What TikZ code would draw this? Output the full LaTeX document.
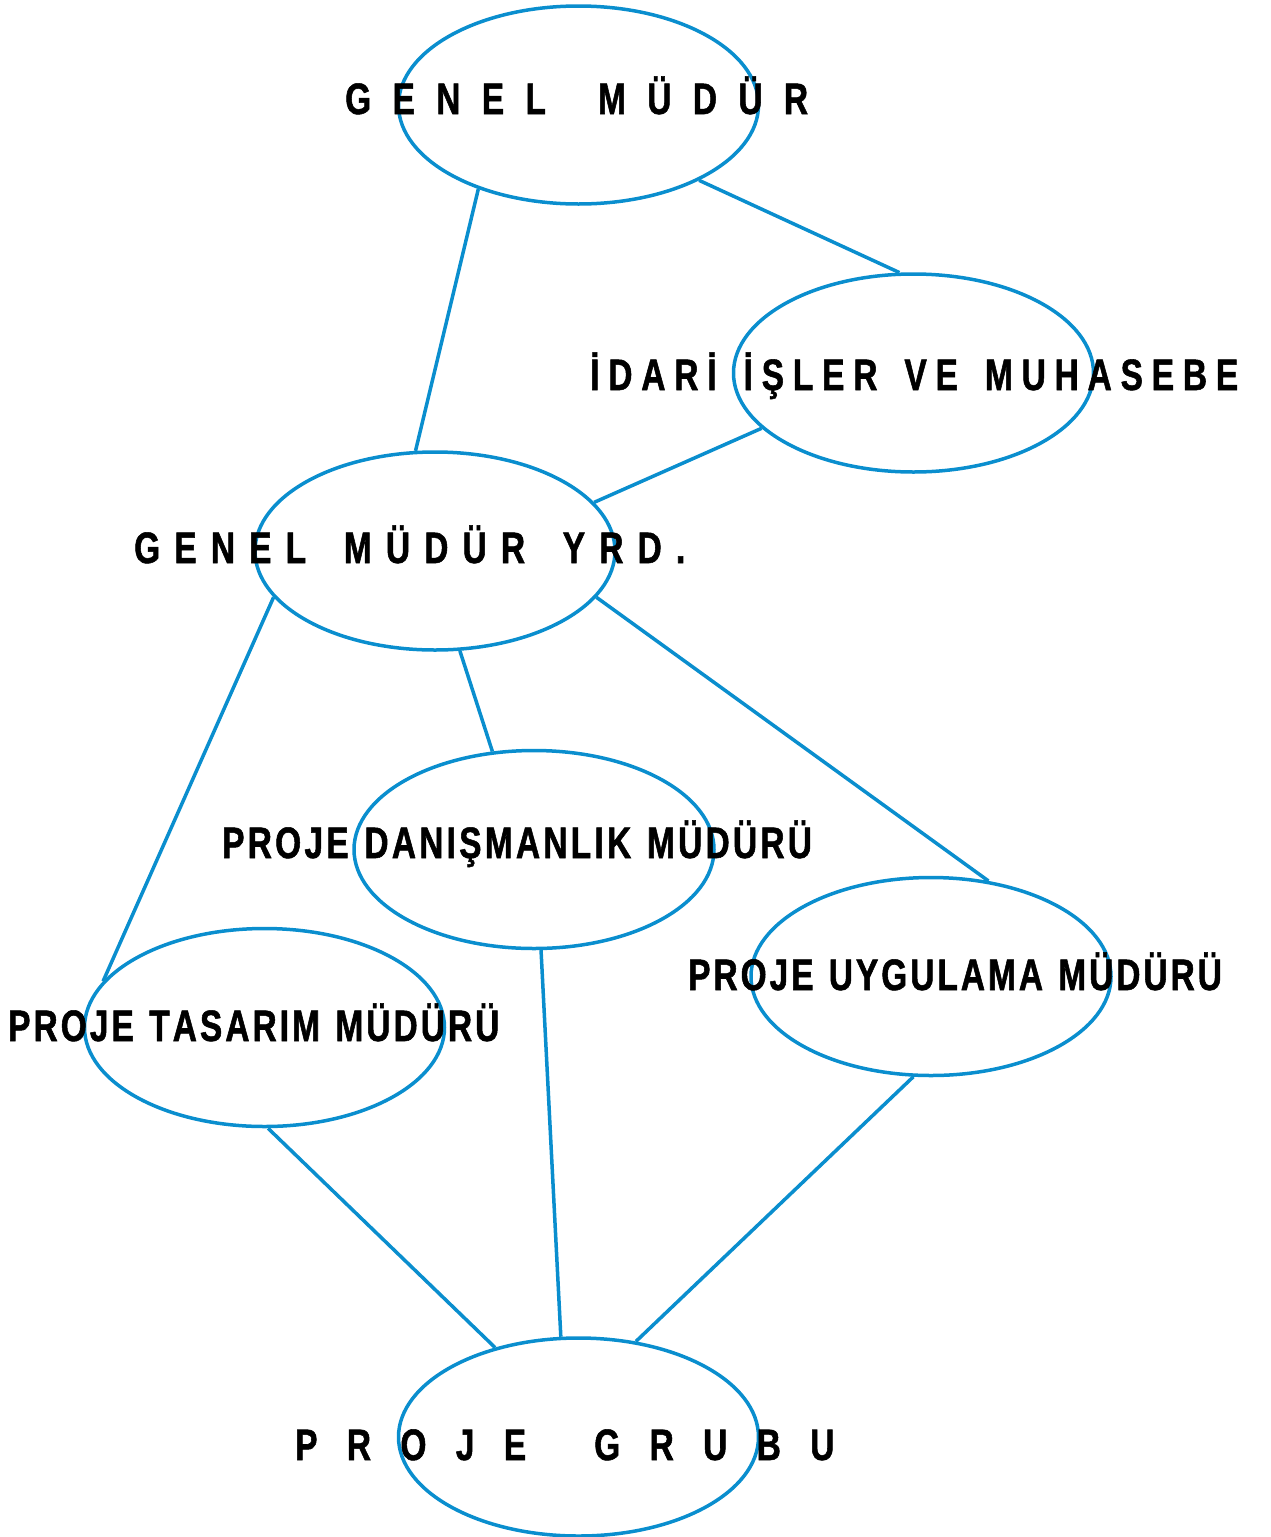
\documentclass[tikz,border=0pt]{standalone}
\usepackage{fontspec}
\usetikzlibrary{shapes.geometric}
\newfontfamily\labfont[FakeStretch=0.76,FakeBold=1.2]{Liberation Sans}
\newcommand\spaceout[2]{\def\sokern{#1}\soloop#2\relax}
\def\soloop#1{\ifx\relax#1\else#1\kern\sokern\expandafter\soloop\fi}
\definecolor{lineblue}{HTML}{0A8ECE}
\begin{document}
\begin{tikzpicture}[x=1pt,y=-1pt,
  org/.style={ellipse, draw=lineblue, line width=3.5pt, minimum width=360pt, minimum height=198pt, inner sep=0pt},
  link/.style={draw=lineblue, line width=3.5pt},
  lab/.style={anchor=base west, inner sep=0pt, font=\labfont\bfseries\fontsize{44}{48}\selectfont}]
\useasboundingbox (0,0) rectangle (1270,1537);
\node[org] (gm)  at (578.5,105) {};
\node[org] (iim) at (913.5,373) {};
\node[org] (gmy) at (435,551) {};
\node[org] (pdm) at (534,849.5) {};
\node[org] (pum) at (931,976.5) {};
\node[org] (ptm) at (264.5,1027.5) {};
\node[org] (pg)  at (578.5,1437) {};
\draw[link] (gm.220) -- (gmy.101);
\draw[link] (gm.328) -- (iim.98.6);
\draw[link] (iim.200.4) -- (gmy.17.5);
\draw[link] (gmy.196) -- (ptm.164.7);
\draw[link] (gmy.284.4) -- (pdm.113);
\draw[link] (gmy.344.2) -- (pum.59.9);
\draw[link] (ptm.272) -- (pg.133.5);
\draw[link] (pdm.274.5) -- (pg.100.4);
\draw[link] (pum.260.2) -- (pg.59.3);
\node[lab] (t1) at (345,114) {\spaceout{21.4pt}{GENEL~MÜDÜR}};
\node[lab] (t2) at (590,390) {\spaceout{8.85pt}{İDARİ~İŞLER~VE~MUHASEBE}};
\node[lab] (t3) at (134,563) {\spaceout{14.2pt}{GENEL~MÜDÜR~YRD.}};
\node[lab] (t4) at (222,858) {\spaceout{3.27pt}{PROJE~DANIŞMANLIK~MÜDÜRÜ}};
\node[lab] (t5) at (8,1041) {\spaceout{3.07pt}{PROJE~TASARIM~MÜDÜRÜ}};
\node[lab] (t6) at (688,990) {\spaceout{3.0pt}{PROJE~UYGULAMA~MÜDÜRÜ}};
\node[lab] (t7) at (295,1460) {\spaceout{29.4pt}{PROJE~GRUBU}};
\end{tikzpicture}
\end{document}
